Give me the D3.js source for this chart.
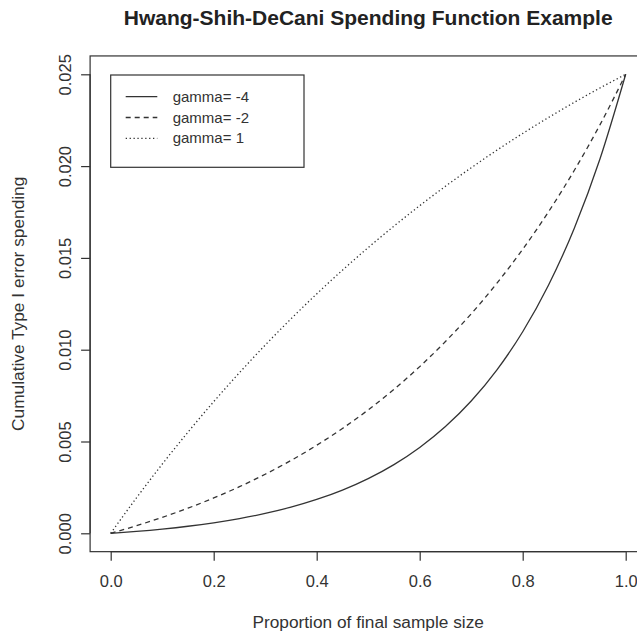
<!DOCTYPE html>
<html>
<head>
<meta charset="utf-8">
<script src="https://cdn.jsdelivr.net/npm/d3@7"></script>
<style>
  body { margin: 0; background: #fff; }
  svg { display: block; font-family: "Liberation Sans", Arial, sans-serif; }
</style>
</head>
<body>
<div id="chart"></div>
<script>
// Proportion of final sample size (x values)
var tValues = [0, 0.05, 0.1, 0.15, 0.2, 0.25, 0.3, 0.35, 0.4, 0.45, 0.5,
               0.55, 0.6, 0.65, 0.7, 0.75, 0.8, 0.85, 0.9, 0.95, 1];

// Cumulative type I error spending
var gammaNeg4 = [0, 0.000103, 0.000229, 0.000383, 0.000572, 0.000801, 0.001082,
                 0.001425, 0.001844, 0.002355, 0.002980, 0.003743, 0.004675,
                 0.005814, 0.007204, 0.008902, 0.010976, 0.013510, 0.016604,
                 0.020384, 0.025];
var gammaNeg2 = [0, 0.000412, 0.000866, 0.001369, 0.001924, 0.002538, 0.003217,
                 0.003967, 0.004795, 0.005711, 0.006723, 0.007842, 0.009078,
                 0.010445, 0.011955, 0.013624, 0.015468, 0.017506, 0.019759,
                 0.022248, 0.025];
var gammaPos1 = [0, 0.001929, 0.003764, 0.005509, 0.007169, 0.008748, 0.010251,
                 0.011679, 0.013039, 0.014332, 0.015561, 0.016731, 0.017844,
                 0.018903, 0.019910, 0.020868, 0.021779, 0.022645, 0.023470,
                 0.024254, 0.025];

var seriesNames = ["gamma= -4", "gamma= -2", "gamma= 1"];
var xTicks = [0, 0.2, 0.4, 0.6, 0.8, 1.0];
var yTicks = [0, 0.005, 0.010, 0.015, 0.020, 0.025];

var width = 637, height = 637;
var dashes = ["none", "5,4", "1.3,2.6"];
var ink = "#333";

var svg = d3.select("#chart").append("svg")
    .attr("width", width)
    .attr("height", height);

// scales (R style: 4% padding beyond data range)
var x = d3.scaleLinear().domain([0, 1]).range([110.7, 625.7]);
var y = d3.scaleLinear().domain([0, 0.025]).range([533.3, 74.3]);

var x0 = x(-0.04), x1 = x(1.04), y0 = y(-0.001), y1 = y(0.026);

// plot box
svg.append("rect")
    .attr("x", x0).attr("y", y1)
    .attr("width", x1 - x0).attr("height", y0 - y1)
    .attr("fill", "none").attr("stroke", ink).attr("stroke-width", 1.2);

// x axis
var xAxis = svg.append("g")
    .attr("transform", `translate(0,${y0})`)
    .call(d3.axisBottom(x).tickValues(xTicks).tickFormat(d3.format(".1f")).tickSize(9).tickPadding(15));
xAxis.select(".domain").attr("d", `M${x(0)},0H${x(1)}`).attr("stroke", ink).attr("stroke-width", 1.2);
xAxis.selectAll(".tick line").attr("stroke", ink).attr("stroke-width", 1.2);
xAxis.selectAll("text").attr("font-size", 16.5).attr("fill", ink)
    .attr("font-family", "Liberation Sans, Arial, sans-serif");

// y axis
var yAxis = svg.append("g")
    .attr("transform", `translate(${x0},0)`)
    .call(d3.axisLeft(y).tickValues(yTicks).tickFormat(d3.format(".3f")).tickSize(9));
yAxis.select(".domain").attr("d", `M0,${y(0)}V${y(0.025)}`).attr("stroke", ink).attr("stroke-width", 1.2);
yAxis.selectAll(".tick line").attr("stroke", ink).attr("stroke-width", 1.2);
yAxis.selectAll("text")
    .attr("font-size", 16.5).attr("fill", ink)
    .attr("font-family", "Liberation Sans, Arial, sans-serif")
    .attr("x", null).attr("dy", null)
    .attr("text-anchor", "middle")
    .attr("transform", "translate(-19,0) rotate(-90)");

// lines
var seriesData = [gammaNeg4, gammaNeg2, gammaPos1];
var line = d3.line()
    .x((d, i) => x(tValues[i]))
    .y(d => y(d))
    .curve(d3.curveMonotoneX);

svg.selectAll(".curve")
    .data(seriesData)
    .enter().append("path")
    .attr("class", "curve")
    .attr("d", line)
    .attr("fill", "none")
    .attr("stroke", ink)
    .attr("stroke-width", 1.3)
    .attr("stroke-dasharray", (d, i) => dashes[i]);

// legend
var legend = svg.append("g");
legend.append("rect")
    .attr("x", 110.7).attr("y", 75)
    .attr("width", 193.3).attr("height", 92.3)
    .attr("fill", "#fff").attr("stroke", ink).attr("stroke-width", 1.2);
seriesNames.forEach(function(name, i) {
    var ly = 96.7 + i * 20.8;
    legend.append("line")
        .attr("x1", 125.7).attr("x2", 157.3)
        .attr("y1", ly).attr("y2", ly)
        .attr("stroke", ink).attr("stroke-width", 1.3)
        .attr("stroke-dasharray", dashes[i]);
    legend.append("text")
        .attr("x", 172.7).attr("y", ly + 5)
        .attr("font-size", 15).attr("fill", ink)
        .text(name);
});

// title and axis labels
svg.append("text")
    .attr("x", (x0 + x1) / 2).attr("y", 25)
    .attr("text-anchor", "middle")
    .attr("font-size", 21).attr("font-weight", "bold").attr("fill", "#222")
    .text("Hwang-Shih-DeCani Spending Function Example");

svg.append("text")
    .attr("x", (x0 + x1) / 2).attr("y", 628)
    .attr("text-anchor", "middle")
    .attr("font-size", 17.3).attr("fill", ink)
    .text("Proportion of final sample size");

svg.append("text")
    .attr("transform", `translate(24,${(y0 + y1) / 2}) rotate(-90)`)
    .attr("text-anchor", "middle")
    .attr("font-size", 17.3).attr("fill", ink)
    .text("Cumulative Type I error spending");
</script>
</body>
</html>
